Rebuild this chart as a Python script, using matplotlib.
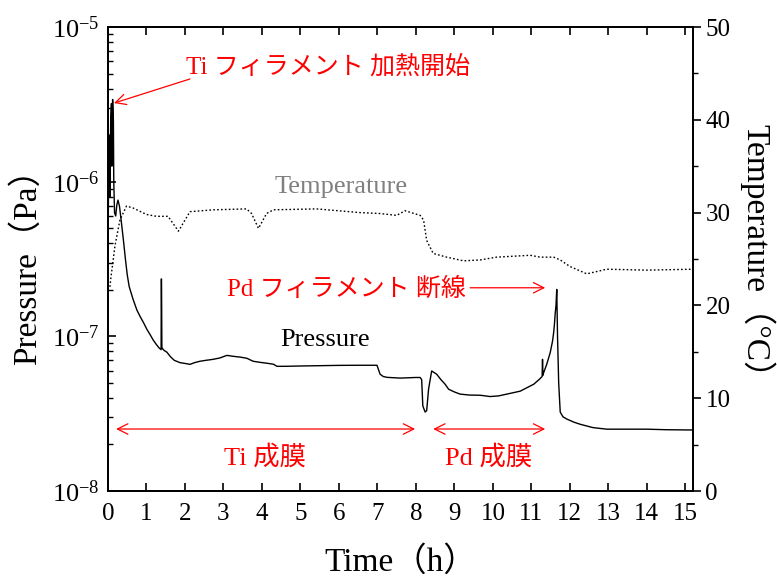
import numpy as np
import matplotlib
matplotlib.use("Agg")
import matplotlib.pyplot as plt
from matplotlib.ticker import LogLocator, MultipleLocator, NullFormatter

plt.rcParams['font.family'] = ['Liberation Serif', 'Noto Sans CJK JP']
plt.rcParams['mathtext.fontset'] = 'custom'
plt.rcParams['mathtext.rm'] = 'Liberation Serif'
plt.rcParams['mathtext.it'] = 'Liberation Serif:italic'
plt.rcParams['axes.unicode_minus'] = False

# ---------------- data ----------------
time_p = [0.00, 0.02, 0.04, 0.05, 0.07, 0.09, 0.10, 0.12, 0.14, 0.15, 0.17, 0.20, 0.23, 0.26,
          0.30, 0.35, 0.40, 0.45, 0.50, 0.55, 0.65, 0.75, 0.83, 0.92, 1.01, 1.10, 1.17, 1.25,
          1.33, 1.38, 1.385, 1.39, 1.40, 1.42, 1.46, 1.53, 1.62, 1.72, 1.87, 2.00, 2.13, 2.25,
          2.39, 2.55, 2.73, 2.90, 3.09, 3.25, 3.45, 3.61, 3.77, 3.95, 4.13, 4.30, 4.39, 4.60,
          5.00, 5.50, 6.00, 6.50, 6.99, 7.02, 7.07, 7.15, 7.25, 7.59, 8.00, 8.11, 8.15, 8.18,
          8.24, 8.28, 8.33, 8.41, 8.54, 8.65, 8.76, 8.85, 9.00, 9.15, 9.40, 9.67, 9.93, 10.15,
          10.36, 10.71, 11.06, 11.20, 11.28, 11.29, 11.30, 11.32, 11.40, 11.49, 11.55, 11.58,
          11.60, 11.62, 11.64, 11.66, 11.68, 11.71, 11.75, 11.82, 11.92, 12.10, 12.27, 12.60,
          12.96, 13.5, 14.0, 14.5, 15.2]
pressure = [2.82e-7, 1.78e-6, 2.0e-6, 7.9e-7, 2.5e-6, 3.2e-6, 1.26e-6, 3.4e-6, 2.5e-6, 1.0e-6,
            6.3e-7, 6.0e-7, 7.1e-7, 7.6e-7, 6.9e-7, 5.4e-7, 4.2e-7, 3.2e-7, 2.5e-7, 2.1e-7,
            1.74e-7, 1.48e-7, 1.35e-7, 1.23e-7, 1.11e-7, 1.02e-7, 9.5e-8, 8.9e-8, 8.4e-8, 8.2e-8,
            2.35e-7, 2.35e-7, 8.5e-8, 8.3e-8, 8.1e-8, 7.9e-8, 7.4e-8, 7.0e-8, 6.76e-8, 6.68e-8,
            6.59e-8, 6.76e-8, 6.9e-8, 7.0e-8, 7.1e-8, 7.24e-8, 7.53e-8, 7.43e-8, 7.33e-8, 7.21e-8,
            6.9e-8, 6.79e-8, 6.7e-8, 6.6e-8, 6.4e-8, 6.4e-8, 6.43e-8, 6.46e-8, 6.49e-8, 6.5e-8,
            6.5e-8, 6.17e-8, 5.69e-8, 5.5e-8, 5.43e-8, 5.37e-8, 5.42e-8, 5.42e-8, 5.25e-8, 3.55e-8,
            3.24e-8, 3.31e-8, 4.57e-8, 5.97e-8, 5.69e-8, 5.25e-8, 4.9e-8, 4.55e-8, 4.37e-8, 4.23e-8,
            4.17e-8, 4.16e-8, 4.08e-8, 4.12e-8, 4.23e-8, 4.42e-8, 4.9e-8, 5.25e-8, 5.5e-8, 7.1e-8,
            5.6e-8, 5.83e-8, 6.6e-8, 7.85e-8, 9.3e-8, 1.06e-7, 1.2e-7, 1.41e-7, 1.58e-7, 2.01e-7,
            1.0e-7, 5.0e-8, 3.24e-8, 3.02e-8, 2.92e-8, 2.79e-8, 2.7e-8, 2.57e-8, 2.51e-8, 2.51e-8,
            2.51e-8, 2.49e-8, 2.48e-8]

time_t = [0.05, 0.07, 0.18, 0.31, 0.48, 0.65, 1.0, 1.26, 1.56, 1.83, 2.13, 2.74, 3.6, 3.73,
          3.91, 4.12, 4.3, 5.42, 6.55, 7.07, 7.5, 7.72, 8.11, 8.2, 8.28, 8.45, 8.8, 9.24, 9.67,
          10.1, 10.54, 10.97, 11.23, 11.58, 11.75, 12.0, 12.44, 12.96, 14.0, 15.2]
temperature = [22.0, 22.8, 26.4, 29.2, 30.7, 30.5, 29.8, 29.6, 29.6, 28.0, 30.1, 30.3, 30.4, 29.9,
               28.3, 29.9, 30.3, 30.4, 30.0, 29.9, 29.7, 30.2, 29.7, 29.2, 27.0, 25.6, 25.2, 24.8,
               24.9, 25.2, 25.3, 25.4, 25.2, 25.2, 24.9, 24.2, 23.4, 23.9, 23.8, 23.9]

x_ticks = list(range(0, 16))
temp_ticks = [0, 10, 20, 30, 40, 50]

red = '#ff0000'

# ---------------- figure ----------------
fig = plt.figure(figsize=(7.77, 5.79), dpi=100)
ax = fig.add_axes([108/777, 1-491/579, 585/777, 464/579])
ax2 = ax.twinx()

ax.plot(time_p, pressure, color='black', lw=1.0, zorder=3)
ax2.plot(time_t, temperature, color='black', lw=1.0, linestyle=(0, (1.2, 1.6)))

ax.set_yscale('log')
ax.set_ylim(1e-8, 1e-5)
ax.set_xlim(0, 15.2)
ax2.set_ylim(0, 50)

ax.set_xticks(x_ticks)
ax.set_xticklabels([str(v) for v in x_ticks])
ax.yaxis.set_major_locator(LogLocator(base=10, numticks=10))
ax.yaxis.set_minor_locator(LogLocator(base=10, subs=np.arange(2, 10), numticks=20))
ax.yaxis.set_minor_formatter(NullFormatter())
ax2.set_yticks(temp_ticks)
ax2.yaxis.set_minor_locator(MultipleLocator(5))

ax.tick_params(axis='x', which='major', direction='in', length=6, width=1.2,
               top=True, labelsize=18, pad=9)
ax.tick_params(axis='y', which='major', direction='in', length=6, width=1.2,
               labelsize=19, pad=6, right=False)
ax.tick_params(axis='y', which='minor', direction='in', length=3.5, width=1.0, right=False)
ax2.tick_params(axis='y', which='major', direction='out', length=6, width=1.2,
                labelsize=18, pad=3)
ax2.tick_params(axis='y', which='minor', direction='out', length=3.5, width=1.0)

for a in (ax, ax2):
    for s in a.spines.values():
        s.set_linewidth(1.3)

ax.set_xlabel('Time（h）', fontsize=24)
ax.xaxis.label.set_va('center')
ax.xaxis.set_label_coords(0.5, (491-562)/464)
ax.set_ylabel('Pressure（Pa）', fontsize=24)
ax.yaxis.label.set_va('center')
ax.yaxis.set_label_coords((27-108)/585, 0.5)
ax2.set_ylabel('Temperature（°C）', fontsize=24, rotation=270)
ax2.yaxis.label.set_va('center')
ax2.yaxis.set_label_coords((757-108)/585, 0.5)

# ---------------- annotations (in time / temperature coordinates) ----------------
arrow_kw = dict(arrowstyle='->,head_length=0.5,head_width=0.25', color=red, lw=0.9,
                mutation_scale=15, shrinkA=0, shrinkB=0)
darrow_kw = dict(arrowstyle='<->,head_length=0.5,head_width=0.25', color=red, lw=0.9,
                 mutation_scale=15, shrinkA=0, shrinkB=0)

ax2.text(5.72, 45.7, 'Ti フィラメント 加熱開始', color=red, fontsize=18, ha='center', va='center')
ax2.annotate('', xy=(0.156, 41.8), xytext=(2.13, 44.4), arrowprops=arrow_kw)

ax2.text(6.06, 32.8, 'Temperature', color='#808080', fontsize=19, ha='center', va='center')

ax2.text(6.19, 21.8, 'Pd フィラメント 断線', color=red, fontsize=18, ha='center', va='center')
ax2.annotate('', xy=(11.36, 21.9), xytext=(9.41, 21.9), arrowprops=arrow_kw)

ax2.text(5.64, 16.3, 'Pressure', color='black', fontsize=19, ha='center', va='center')

ax2.annotate('', xy=(0.21, 6.68), xytext=(7.98, 6.68), arrowprops=darrow_kw)
ax2.annotate('', xy=(8.45, 6.68), xytext=(11.36, 6.68), arrowprops=darrow_kw)
ax2.text(4.08, 3.66, 'Ti 成膜', color=red, fontsize=19, ha='center', va='center')
ax2.text(9.90, 3.66, 'Pd 成膜', color=red, fontsize=19, ha='center', va='center')

fig.savefig('out.png', dpi=100)
